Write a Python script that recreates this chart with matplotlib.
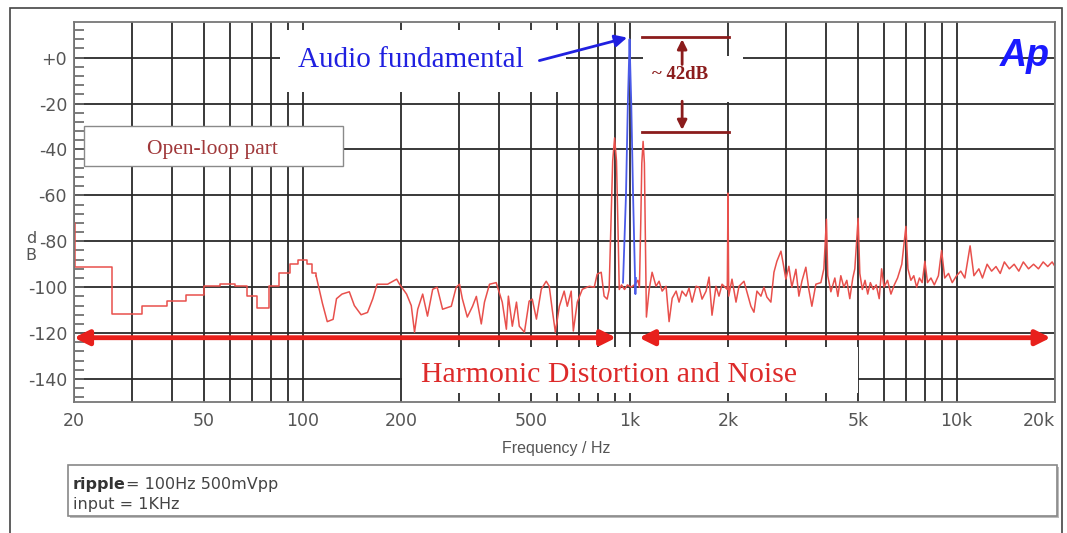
import numpy as np
import matplotlib
matplotlib.use('Agg')
import matplotlib.pyplot as plt
from matplotlib.patches import Rectangle

# Low-frequency part of the red trace (stair steps, Hz / dB)
step_hz = [20, 20.2, 26.1, 32.3, 38.4, 44.0, 50, 56, 62, 67.5, 72.4, 78.8, 84.5, 91.3, 96.6, 103, 107, 110]
step_db = [-72, -91, -111.5, -108, -106, -103.5, -99.6, -98.5, -99.6, -104, -109, -99.6, -94, -90, -88, -90, -94, -95]

# Rest of the red trace (ripple + sidebands + harmonics + noise)
red_hz = [110, 115, 119, 124, 127, 132, 139, 144, 151, 158, 164, 169, 182, 194, 198, 208, 215, 220,
          225, 233, 241, 250, 258, 268, 285, 295, 302, 308, 319, 331, 340, 352, 360, 373, 391,
          408, 420, 426, 438, 451, 460, 477, 493, 504, 519, 537, 556, 568, 580, 593, 610, 631,
          645, 663, 673, 692, 717, 753, 780, 796, 819, 836, 854,
          866, 878, 888, 900, 912, 922, 930, 945, 965, 985, 1010, 1035, 1060, 1072, 1082, 1090,
          1100, 1110, 1118, 1126,
          1148, 1172, 1205, 1231, 1258, 1293, 1321, 1350, 1388, 1417, 1447, 1488, 1520, 1553,
          1597, 1632, 1666, 1714, 1750, 1787, 1838, 1877, 1918, 1990, 2000, 2010, 2057, 2116,
          2161, 2238, 2286, 2350, 2401, 2452, 2522, 2576, 2630, 2705, 2764, 2822, 2904, 2944,
          3006, 3070, 3135, 3226, 3295, 3365, 3460, 3533, 3610, 3713,
          3846, 3928, 4000, 4037, 4127, 4244, 4335, 4426, 4521, 4617, 4715, 4816, 4885, 5000,
          5060, 5150, 5250, 5350, 5450, 5560, 5680, 5800, 5900, 6000, 6150, 6300, 6450, 6600,
          6800, 7000, 7100, 7250, 7400, 7550, 7700, 7850, 8000, 8150, 8350, 8550, 8800, 9000,
          9200, 9450, 9700, 10000, 10300, 10600, 11000, 11300, 11700, 12000, 12400, 12800,
          13200, 13600, 14000, 14500, 15000, 15500, 16000, 16600, 17200, 17800, 18400, 19000,
          19600, 20000]
red_db = [-95, -107, -115, -114, -105, -103, -102, -108, -112, -111, -105, -98.7, -98.7, -96.5, -98.7,
          -103, -108, -119.6, -109.6, -103, -112.6, -100.9, -100, -109.6, -108.3, -100, -98.7, -105,
          -113, -108.3, -104, -116, -106.5, -98.7, -98,
          -106.5, -118.3, -103.9, -117, -106.5, -117, -119.6, -106.1, -105.2, -113.9, -100.9, -97.4,
          -99.6, -109.6, -119.6, -108.3, -101.7, -108.3, -101.7, -119.1, -106.5, -100.9, -99.6, -100,
          -94.3, -93.5, -103.9, -105.2,
          -101, -70, -45, -35, -45, -75, -101, -99, -101, -99, -100, -99, -97, -100, -72, -46,
          -36.5, -46, -80, -113,
          -101, -93.5, -99.6, -97.4, -101.7, -99.6, -115, -104.8, -101.7, -106.5, -101.7, -103.9,
          -100.4, -106.5, -99.6, -100, -105.2, -101.7, -95.6, -112.2, -99.6, -103.9, -98.7, -101,
          -59, -103.9, -96.5, -106.5, -99.6, -97.4, -102.2, -108.3, -110.9, -101.7, -103.9, -100,
          -104.3, -106.5, -93.5, -88.7, -84.3, -89, -96.5, -90.9, -100, -92.2, -103.9, -97.4,
          -91.3, -100.9, -108.3, -98.7,
          -98, -92, -70.4, -95, -102, -96, -104, -95, -100, -97, -105, -96, -92, -70,
          -94, -101, -97, -103, -98, -101, -99, -105, -92, -100, -97, -103, -99, -96,
          -90, -73.5, -92, -97, -95, -100, -96, -98, -88.7, -98, -96, -99, -95, -84,
          -96, -94, -98, -95, -93, -96, -82, -95, -92, -96, -90, -93,
          -91, -94, -89, -92, -90, -93, -89, -92, -90, -92, -89, -91,
          -89, -91]

# Blue trace: the 1 kHz audio fundamental
blue_hz = [955, 975, 988, 996, 1000, 1004, 1012, 1025, 1042, 1046]
blue_db = [-98, -60, -20, -2, 8, -2, -20, -60, -103, -96]

xtick_hz = [20, 50, 100, 200, 500, 1000, 2000, 5000, 10000, 20000]
xtick_lbl = ['20', '50', '100', '200', '500', '1k', '2k', '5k', '10k', '20k']
ytick_db = [0, -20, -40, -60, -80, -100, -120, -140]
ytick_lbl = ['+0', '-20', '-40', '-60', '-80', '-100', '-120', '-140']

W, H = 1067, 533
fig = plt.figure(figsize=(W / 100, H / 100), dpi=100)
ax = fig.add_axes([74 / W, 1 - 402 / H, 981 / W, 380 / H])
ax.set_xscale('log')
ax.set_xlim(20, 20000)
ax.set_ylim(-150, 15.5)
ax.set_axisbelow(True)

# grid: every 1..9 x decade, every 20 dB
grid_hz = [m * 10 ** e for e in range(1, 5) for m in range(1, 10)]
grid_hz = [g for g in grid_hz if 20 < g < 20000]
ax.set_xticks(xtick_hz)
ax.set_xticklabels(xtick_lbl)
ax.set_xticks(grid_hz, minor=True)
ax.xaxis.set_minor_formatter(matplotlib.ticker.NullFormatter())
ax.set_yticks(ytick_db)
ax.set_yticklabels(ytick_lbl)
ax.set_yticks(np.arange(-148, 15, 4), minor=True)
ax.grid(True, which='both', axis='x', color='#2a2a2a', lw=1.3)
ax.grid(True, which='major', axis='y', color='#2a2a2a', lw=1.3)
ax.tick_params(axis='x', which='both', length=0, pad=7, labelsize=12.5, labelcolor='#555555')
ax.tick_params(axis='y', which='both', direction='in', length=7, width=1.2, color='#666666',
               pad=5, labelsize=12.5, labelcolor='#555555')
ax.get_xticklabels()[-1].set_ha('right')
for s in ax.spines.values():
    s.set_color('#777777')
    s.set_linewidth(1.3)
    s.set_zorder(6)

# white label boxes that hide the grid
def wbox(x0, x1, y0, y1, ec='none'):
    ax.add_patch(Rectangle((x0, y0), x1 - x0, y1 - y0, transform=ax.transAxes,
                           fc='white', ec=ec, lw=1, zorder=1.5))

wbox(0.210, 0.5015, 0.816, 0.979)
wbox(0.334, 0.799, 0.024, 0.145)
wbox(0.580, 0.682, 0.789, 0.911)
wbox(0.0102, 0.274, 0.621, 0.726, ec='#8a8a8a')

# traces
ax.plot(step_hz, step_db, drawstyle='steps-post', color='#e8504c', lw=1.1, zorder=3)
ax.plot(red_hz, red_db, color='#e8504c', lw=1.1, zorder=3)
ax.plot(blue_hz, blue_db, color='#4a5ae8', lw=1.3, zorder=3.5)

# harmonic distortion arrows
red = '#e8201c'
ax.annotate('', xy=(20, -122), xytext=(910, -122),
            arrowprops=dict(arrowstyle='<|-|>', color=red, lw=3.5, mutation_scale=22,
                            shrinkA=0, shrinkB=0), zorder=4)
ax.annotate('', xy=(1069, -122), xytext=(19400, -122),
            arrowprops=dict(arrowstyle='<|-|>', color=red, lw=3.5, mutation_scale=22,
                            shrinkA=0, shrinkB=0), zorder=4)
ax.text(866, -141.3, 'Harmonic Distortion and Noise', color='#dd2a2a', fontsize=21.5,
        family='Liberation Serif', ha='center', va='baseline', zorder=5)

# audio fundamental label
blue = '#2020e0'
ax.text(214, -4.3, 'Audio fundamental', color=blue, fontsize=21, family='Liberation Serif',
        ha='center', va='baseline', zorder=5)
ax.annotate('', xy=(983, 8.7), xytext=(530, -1.3),
            arrowprops=dict(arrowstyle='-|>', color=blue, lw=2, mutation_scale=18,
                            shrinkA=0, shrinkB=0), zorder=5)

# ~42 dB bracket
dred = '#8b1c1c'
ax.plot([1092, 2014], [9, 9], color=dred, lw=2, zorder=4)
ax.plot([1092, 2014], [-32.6, -32.6], color=dred, lw=2, zorder=4)
ax.annotate('', xy=(1448, 8), xytext=(1448, -3),
            arrowprops=dict(arrowstyle='-|>', color=dred, lw=2, mutation_scale=14,
                            shrinkA=0, shrinkB=0), zorder=4)
ax.annotate('', xy=(1448, -31.5), xytext=(1448, -19),
            arrowprops=dict(arrowstyle='-|>', color=dred, lw=2, mutation_scale=14,
                            shrinkA=0, shrinkB=0), zorder=4)
ax.text(1428, -9.5, '~ 42dB', color=dred, fontsize=13.5, fontweight='bold',
        family='Liberation Serif', ha='center', va='baseline', zorder=5)

# open-loop label
ax.text(53.2, -42.2, 'Open-loop part', color='#a0383a', fontsize=15.5,
        family='Liberation Serif', ha='center', va='baseline', zorder=5)

# Ap logo, axis labels
fig.text(1025 / W, 1 - 66 / H, 'Ap', color='#1a1aff', fontsize=27, fontweight='bold',
         fontstyle='italic', family='Liberation Sans', ha='center', va='baseline')
fig.text(556 / W, 1 - 449 / H, 'Frequency / Hz', color='#555555', fontsize=11.5,
         family='Liberation Sans', ha='center', va='center')
fig.text(31 / W, 1 - 247 / H, 'd\nB', color='#555555', fontsize=11.5,
         ha='center', va='center', linespacing=1.1)

# bottom info box
fig.add_artist(Rectangle((70 / W, 1 - 518 / H), 989 / W, 51 / H, transform=fig.transFigure,
                         fc='#bbbbbb', ec='none'))
fig.add_artist(Rectangle((68 / W, 1 - 516 / H), 989 / W, 51 / H, transform=fig.transFigure,
                         fc='white', ec='#888888', lw=1.2))
t1 = fig.text(73 / W, 1 - 489 / H, 'ripple', color='#333333', fontsize=11.5, fontweight='bold',
              ha='left', va='baseline')
fig.canvas.draw()
bb = t1.get_window_extent(fig.canvas.get_renderer())
fig.text(bb.x1 / W, 1 - 489 / H, '= 100Hz 500mVpp', color='#444444', fontsize=11.5,
         ha='left', va='baseline')
fig.text(73 / W, 1 - 509 / H, 'input = 1KHz', color='#444444', fontsize=11.5,
         ha='left', va='baseline')

# outer frame
fig.add_artist(Rectangle((10 / W, -0.01), 1052 / W, 1 - 8 / H + 0.01, transform=fig.transFigure,
                         fc='none', ec='#444444', lw=1.2))

fig.savefig('out.png', dpi=100)
